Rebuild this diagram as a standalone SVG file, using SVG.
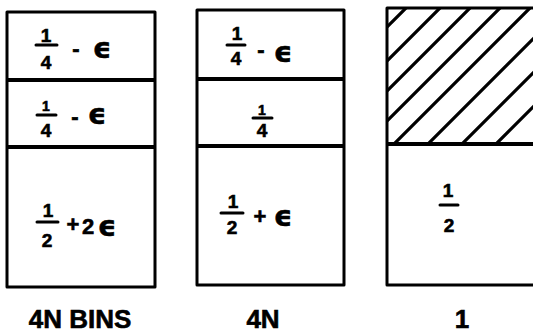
<svg xmlns="http://www.w3.org/2000/svg" width="533" height="335" viewBox="0 0 533 335">
<defs>
<style>
.box{fill:none;stroke:#000;stroke-width:3;stroke-linejoin:round}
.div{stroke:#000;stroke-width:4}
.bar{stroke:#000;stroke-width:3;stroke-linecap:round}
.hatch{stroke:#000;stroke-width:3.2;stroke-linecap:round}
text{font-family:"Liberation Sans","DejaVu Sans",sans-serif;font-weight:bold;fill:#000;stroke:#000;stroke-width:0.6;text-anchor:middle}
.d{font-size:19px}
.s{font-size:14px}
.op{font-size:22px}
.e{font-size:29px;font-family:"DejaVu Sans","Liberation Sans",sans-serif;font-weight:bold}
.lab{font-size:26px}
</style>
<clipPath id="hc"><rect x="387" y="8" width="150" height="136"/></clipPath>
</defs>
<rect width="533" height="335" fill="#fff"/>
<g id="bin1">
<rect class="box" x="7" y="12" width="148" height="275"/>
<line class="div" x1="7" y1="80" x2="155" y2="80"/>
<line class="div" x1="7" y1="147" x2="155" y2="147"/>
<text class="d" x="46" y="42">1</text><line class="bar" x1="36" y1="45" x2="57" y2="45"/><text class="d" x="46" y="69">4</text>
<text class="op" x="76" y="56">-</text><text class="e" x="102" y="58">ϵ</text>
<text class="s" x="46" y="111">1</text><line class="bar" x1="37" y1="115" x2="56" y2="115"/><text class="d" x="46" y="137">4</text>
<text class="op" x="75" y="124">-</text><text class="e" x="97" y="124">ϵ</text>
<text class="d" x="48" y="217">1</text><line class="bar" x1="37" y1="222" x2="58" y2="222"/><text class="d" x="47" y="247">2</text>
<text class="op" x="73" y="232">+</text><text class="op" x="88" y="234">2</text><text class="e" x="107" y="236">ϵ</text>
<text class="lab" x="80" y="328">4N BINS</text>
</g>
<g id="bin2">
<rect class="box" x="197" y="10" width="147" height="275"/>
<line class="div" x1="197" y1="79" x2="344" y2="79"/>
<line class="div" x1="197" y1="146" x2="344" y2="146"/>
<text class="d" x="237" y="40">1</text><line class="bar" x1="227" y1="45" x2="245" y2="45"/><text class="d" x="236" y="65">4</text>
<text class="op" x="261" y="57">-</text><text class="e" x="283" y="62">ϵ</text>
<text class="s" x="262" y="115">1</text><line class="bar" x1="253" y1="118" x2="272" y2="118"/><text class="d" x="262" y="137">4</text>
<text class="d" x="233" y="208">1</text><line class="bar" x1="221" y1="213" x2="243" y2="213"/><text class="d" x="232" y="234">2</text>
<text class="op" x="260" y="224">+</text><text class="e" x="283" y="226">ϵ</text>
<text class="lab" x="263" y="328">4N</text>
</g>
<g id="bin3">
<g clip-path="url(#hc)">
<line class="hatch" x1="264" y1="150" x2="414" y2="0"/>
<line class="hatch" x1="298" y1="150" x2="448" y2="0"/>
<line class="hatch" x1="328" y1="150" x2="478" y2="0"/>
<line class="hatch" x1="358" y1="150" x2="508" y2="0"/>
<line class="hatch" x1="388" y1="150" x2="538" y2="0"/>
<line class="hatch" x1="422" y1="150" x2="572" y2="0"/>
<line class="hatch" x1="456" y1="150" x2="606" y2="0"/>
<line class="hatch" x1="490" y1="150" x2="640" y2="0"/>
</g>
<rect class="box" x="387" y="8" width="150" height="277"/>
<line class="div" x1="387" y1="144" x2="537" y2="144"/>
<text class="d" x="448" y="197">1</text><line class="bar" x1="440" y1="205" x2="458" y2="205"/><text class="d" x="449" y="232">2</text>
<text class="lab" x="462" y="328">1</text>
</g>
</svg>
